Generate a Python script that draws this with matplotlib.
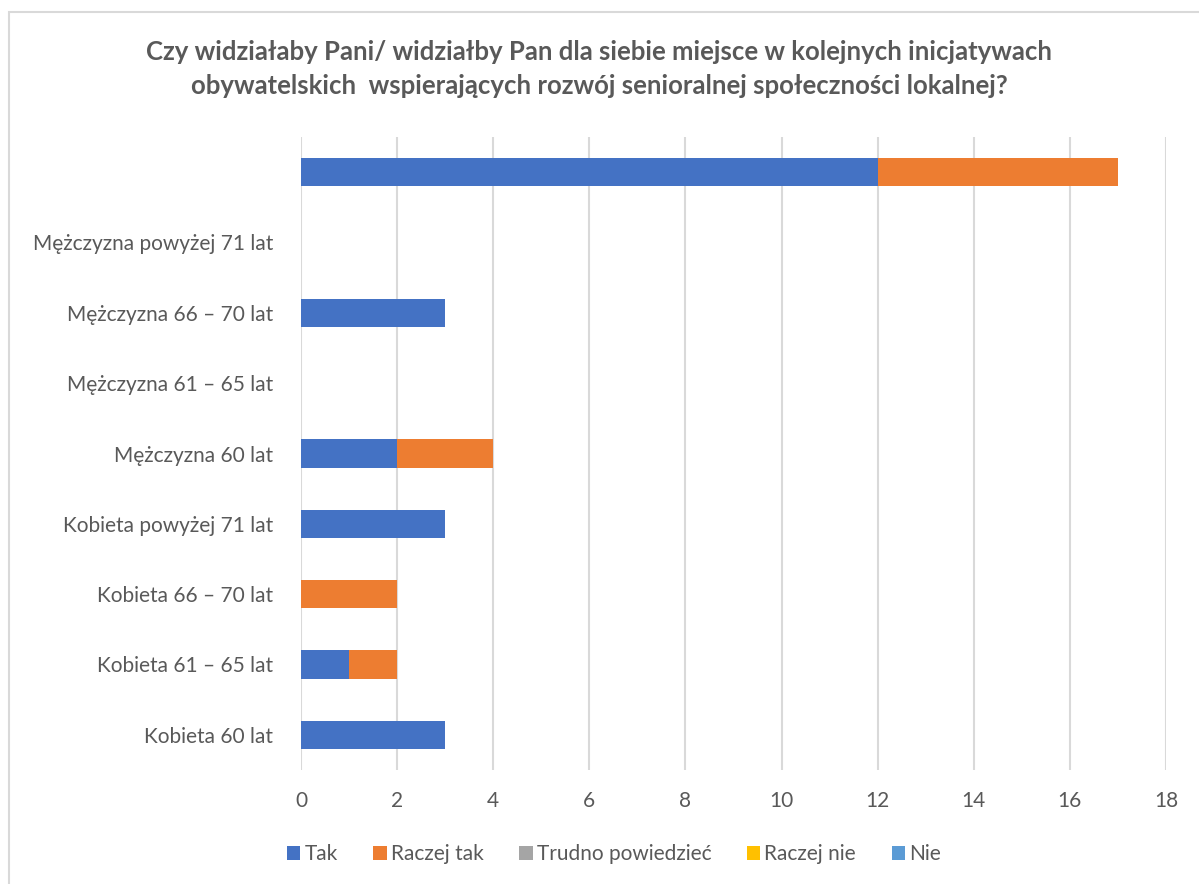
import numpy as np
import matplotlib.pyplot as plt
from matplotlib.patches import Rectangle

plt.rcParams['font.family'] = ['Lato', 'DejaVu Sans']

categories = ["Kobieta 60 lat", "Kobieta 61 – 65 lat", "Kobieta 66 – 70 lat",
              "Kobieta powyżej 71 lat", "Mężczyzna 60 lat", "Mężczyzna 61 – 65 lat",
              "Mężczyzna 66 – 70 lat", "Mężczyzna powyżej 71 lat", ""]
series_names = ["Tak", "Raczej tak", "Trudno powiedzieć", "Raczej nie", "Nie"]
tak = [3, 1, 0, 3, 2, 0, 3, 0, 12]
raczej_tak = [0, 1, 2, 0, 2, 0, 0, 0, 5]
trudno = [0, 0, 0, 0, 0, 0, 0, 0, 0]
raczej_nie = [0, 0, 0, 0, 0, 0, 0, 0, 0]
nie = [0, 0, 0, 0, 0, 0, 0, 0, 0]
colors = ["#4472C4", "#ED7D31", "#A5A5A5", "#FFC000", "#5B9BD5"]
title = ("Czy widziałaby Pani/ widziałby Pan dla siebie miejsce w kolejnych inicjatywach\n"
         "obywatelskich  wspierających rozwój senioralnej społeczności lokalnej?")

text_color = "#595959"
grid_color = "#D9D9D9"

fig = plt.figure(figsize=(11.99, 8.84), dpi=100)
fig.patches.append(Rectangle((9 / 1199, -0.1), 1.2, 1 - 12 / 884 + 0.1,
                             transform=fig.transFigure, fill=False,
                             edgecolor=grid_color, linewidth=1.5))
ax = fig.add_axes([301 / 1199, 1 - 770 / 884, 865 / 1199, 633 / 884])

y = np.arange(len(categories))
left = np.zeros(len(categories))
for name, vals, c in zip(series_names, [tak, raczej_tak, trudno, raczej_nie, nie], colors):
    vals = np.array(vals, dtype=float)
    ax.barh(y, vals, left=left, height=0.4, color=c, label=name, zorder=3)
    left += vals

ax.set_xlim(0, 18)
ax.set_ylim(-0.5, len(categories) - 0.5)
ax.set_xticks(np.arange(0, 19, 2))
ax.set_yticks(y)
ax.set_yticklabels(categories)
ax.grid(axis='x', color=grid_color, linewidth=1.5, zorder=0)
for s in ax.spines.values():
    s.set_visible(False)
ax.tick_params(length=0, labelsize=15, labelcolor=text_color)
ax.tick_params(axis='x', pad=15)
ax.tick_params(axis='y', pad=20)

fig.text(0.5, 1 - 69 / 884, title, ha='center', va='center', fontsize=18.5,
         fontweight='bold', color=text_color, linespacing=1.45)

fig.legend(loc='center', bbox_to_anchor=(0.512, 1 - 854 / 884), ncol=5,
           frameon=False, fontsize=15, labelcolor=text_color,
           handlelength=0.65, handleheight=0.65, handletextpad=0.2, columnspacing=1.7)

fig.savefig("out.png", dpi=100)
